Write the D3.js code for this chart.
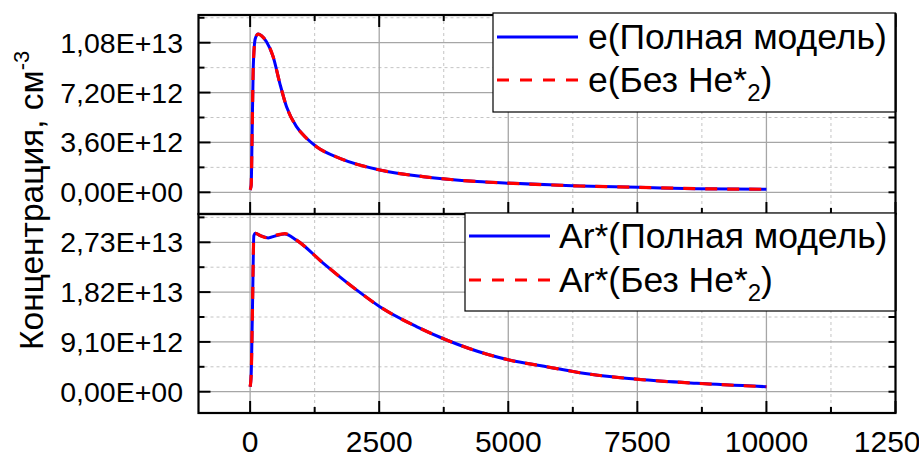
<!DOCTYPE html>
<html><head><meta charset="utf-8">
<script src="https://cdn.jsdelivr.net/npm/d3@7"></script>
<style>body{margin:0;background:#fff}svg{display:block;font-family:"Liberation Sans",Arial,sans-serif}</style>
</head><body><svg id="c" width="919" height="454"></svg>
<script>
// ---- data ----
const eTime   = [0, 20, 40, 60, 100, 155, 220, 317, 446, 575, 705, 898, 1093, 1286, 1738, 2512, 3352, 4400, 5095, 6387, 7517, 8648, 10000];
const eFull   = [0.17e12, 0.5e12, 4.5e12, 9.0e12, 11.1e12, 11.43e12, 11.3e12, 10.87e12, 9.79e12, 7.87e12, 6.18e12, 4.74e12, 3.9e12, 3.29e12, 2.45e12, 1.61e12, 1.13e12, 0.78e12, 0.65e12, 0.455e12, 0.36e12, 0.26e12, 0.22e12];
const eNoHe2  = [0.17e12, 0.5e12, 4.5e12, 9.0e12, 11.1e12, 11.43e12, 11.3e12, 10.87e12, 9.79e12, 7.87e12, 6.18e12, 4.74e12, 3.9e12, 3.29e12, 2.45e12, 1.61e12, 1.13e12, 0.78e12, 0.65e12, 0.455e12, 0.36e12, 0.26e12, 0.22e12];
const arTime  = [0, 20, 45, 72, 104, 200, 349, 500, 672, 898, 1414, 2060, 2512, 3222, 3804, 4643, 5018, 5742, 6387, 7517, 8648, 10000];
const arFull  = [0.09e13, 0.3e13, 1.5e13, 2.85e13, 2.894e13, 2.85e13, 2.81e13, 2.85e13, 2.88e13, 2.77e13, 2.35e13, 1.86e13, 1.553e13, 1.19e13, 0.945e13, 0.67e13, 0.579e13, 0.457e13, 0.347e13, 0.226e13, 0.153e13, 0.091e13];
const arNoHe2 = [0.09e13, 0.3e13, 1.5e13, 2.85e13, 2.894e13, 2.85e13, 2.81e13, 2.86e13, 2.89e13, 2.77e13, 2.35e13, 1.86e13, 1.553e13, 1.19e13, 0.945e13, 0.67e13, 0.579e13, 0.457e13, 0.347e13, 0.226e13, 0.153e13, 0.091e13];
const xTicks = [0, 2500, 5000, 7500, 10000, 12500];
const xMinorTicks = [1250, 3750, 6250, 8750, 11250];
const yTicksTop = [0, 3.6e12, 7.2e12, 1.08e13];
const yMinorTop = [1.8e12, 5.4e12, 9.0e12, 1.26e13];
const yTicksBot = [0, 9.1e12, 1.82e13, 2.73e13];
const yMinorBot = [4.55e12, 1.365e13, 2.275e13, 3.185e13];
const legendTop = ["e(Полная модель)", "e(Без He*", ")"];
const legendBot = ["Ar*(Полная модель)", "Ar*(Без He*", ")"];
const yTitle = "Концентрация, см";

// ---- layout ----
const svg = d3.select("#c");
const X0 = 198.5, X1 = 895.5;
const panels = [
  {y0: 15, y1: 214, dom: [-1.566e12, 1.28e13], ticks: yTicksTop, minor: yMinorTop, full: eFull, noHe: eNoHe2, t: eTime, topTicks: true,
   leg: {x0: 493, x1: 895.5, y0: 13, y1: 112, lx0: 497, lx1: 578, tx: 588, r1: 37, r2: 80, text: legendTop}},
  {y0: 214, y1: 413, dom: [-3.89e12, 3.247e13], ticks: yTicksBot, minor: yMinorBot, full: arFull, noHe: arNoHe2, t: arTime, topTicks: false,
   leg: {x0: 465, x1: 895.5, y0: 213, y1: 311, lx0: 469, lx1: 550, tx: 559, r1: 236, r2: 280, text: legendBot}}
];
const x = d3.scaleLinear().domain([-1000, 12500]).range([X0, X1]);
const fmt = v => { let s = v.toExponential(2).replace(".", ",").replace("e", "E"); return s.replace(/E([+-])(\d)$/, "E$10$2"); };

panels.forEach((p, i) => {
  const y = d3.scaleLinear().domain(p.dom).range([p.y1, p.y0]);
  const g = svg.append("g");
  const cid = "clip" + i;
  svg.append("clipPath").attr("id", cid).append("rect").attr("x", X0).attr("y", p.y0).attr("width", X1 - X0).attr("height", p.y1 - p.y0);
  g.selectAll(".gxm").data(xMinorTicks).join("line").attr("x1", d => x(d)).attr("x2", d => x(d)).attr("y1", p.y0).attr("y2", p.y1)
    .attr("stroke", "#c4c4c4").attr("stroke-width", 1).attr("stroke-dasharray", "3,3");
  g.selectAll(".gym").data(p.minor).join("line").attr("x1", X0).attr("x2", X1).attr("y1", d => y(d)).attr("y2", d => y(d))
    .attr("stroke", "#c4c4c4").attr("stroke-width", 1).attr("stroke-dasharray", "3,3");
  g.selectAll(".gx").data(xTicks).join("line").attr("x1", d => x(d)).attr("x2", d => x(d)).attr("y1", p.y0).attr("y2", p.y1)
    .attr("stroke", "#a6a6a6").attr("stroke-width", 1.3);
  g.selectAll(".gy").data(p.ticks).join("line").attr("x1", X0).attr("x2", X1).attr("y1", d => y(d)).attr("y2", d => y(d))
    .attr("stroke", "#a6a6a6").attr("stroke-width", 1.3);
  const line = d3.line().x((d, k) => x(p.t[k])).y(d => y(d)).curve(d3.curveMonotoneX);
  g.append("path").datum(p.full).attr("d", line).attr("fill", "none").attr("stroke", "#0000ff").attr("stroke-width", 3).attr("clip-path", `url(#${cid})`);
  g.append("path").datum(p.noHe).attr("d", line).attr("fill", "none").attr("stroke", "#ff0000").attr("stroke-width", 3.2).attr("stroke-dasharray", "12,10").attr("clip-path", `url(#${cid})`);
  const tk = (x1, y1, x2, y2) => g.append("line").attr("x1", x1).attr("y1", y1).attr("x2", x2).attr("y2", y2).attr("stroke", "#000").attr("stroke-width", 2);
  xTicks.forEach(d => { tk(x(d), p.y1, x(d), p.y1 - 12); if (p.topTicks) tk(x(d), p.y0, x(d), p.y0 + 12); });
  xMinorTicks.forEach(d => { tk(x(d), p.y1, x(d), p.y1 - 6); if (p.topTicks) tk(x(d), p.y0, x(d), p.y0 + 6); });
  p.ticks.forEach(d => { tk(X0, y(d), X0 + 12, y(d)); tk(X1, y(d), X1 - 7, y(d)); });
  p.minor.forEach(d => { tk(X0, y(d), X0 + 6, y(d)); tk(X1, y(d), X1 - 7, y(d)); });
  g.append("rect").attr("x", X0).attr("y", p.y0).attr("width", X1 - X0).attr("height", p.y1 - p.y0).attr("fill", "none").attr("stroke", "#000").attr("stroke-width", 2.2);
  g.selectAll(".yl").data(p.ticks).join("text").attr("x", 183).attr("y", d => y(d) + 10).attr("text-anchor", "end")
    .attr("font-size", 28.5).attr("fill", "#000").text(fmt);
  const L = p.leg;
  g.append("rect").attr("x", L.x0).attr("y", L.y0).attr("width", L.x1 - L.x0).attr("height", L.y1 - L.y0).attr("fill", "#fff").attr("stroke", "#000").attr("stroke-width", 1.2);
  g.append("line").attr("x1", X1).attr("x2", X1).attr("y1", L.y0).attr("y2", L.y1).attr("stroke", "#000").attr("stroke-width", 2.2);
  g.append("line").attr("x1", L.lx0).attr("x2", L.lx1).attr("y1", L.r1).attr("y2", L.r1).attr("stroke", "#0000ff").attr("stroke-width", 3);
  g.append("line").attr("x1", L.lx0).attr("x2", L.lx1).attr("y1", L.r2).attr("y2", L.r2).attr("stroke", "#ff0000").attr("stroke-width", 3.2).attr("stroke-dasharray", "12,11");
  g.append("text").attr("x", L.tx).attr("y", L.r1 + 12).attr("font-size", 35.5).attr("fill", "#000").text(L.text[0]);
  const t2 = g.append("text").attr("x", L.tx).attr("y", L.r2 + 12).attr("font-size", 35.5).attr("fill", "#000");
  t2.append("tspan").text(L.text[1]);
  t2.append("tspan").attr("font-size", 24).attr("dy", 9).text("2");
  t2.append("tspan").attr("dy", -9).text(L.text[2]);
});

svg.append("g").selectAll("text").data(xTicks).join("text").attr("x", d => x(d)).attr("y", 452).attr("text-anchor", "middle")
  .attr("font-size", 30).attr("fill", "#000").text(d => d);
const yt = svg.append("text").attr("transform", "translate(43,350) rotate(-90)").attr("font-size", 33.5).attr("fill", "#000");
yt.append("tspan").text(yTitle);
yt.append("tspan").attr("font-size", 22).attr("dy", -14).text("-3");
</script></body></html>
